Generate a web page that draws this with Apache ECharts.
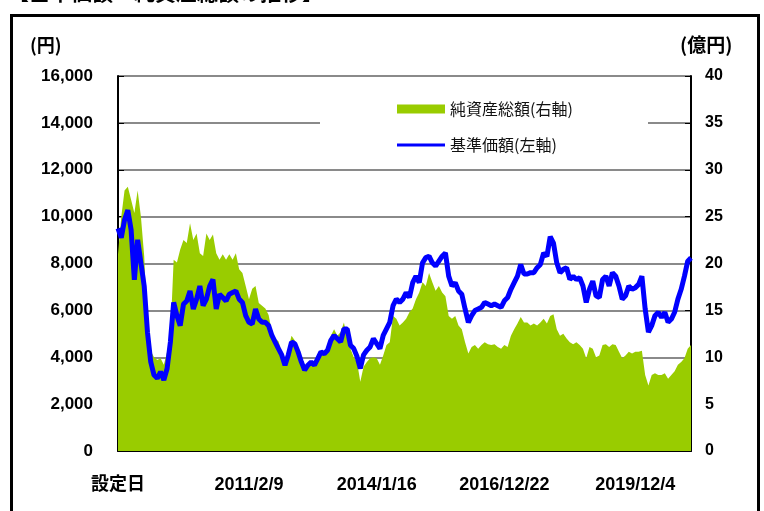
<!DOCTYPE html>
<html><head><meta charset="utf-8">
<script src="https://cdn.jsdelivr.net/npm/echarts@6/dist/echarts.min.js"></script>
<style>html,body{margin:0;padding:0;background:#fff;}#c{width:764px;height:511px;}</style>
</head><body><div id="c"></div>
<script>
// tick labels on the x axis and the sample index each one sits on
const tickIndex = [0, 40, 79, 118, 158];
const tickLabels = ['設定日', '2011/2/9', '2014/1/16', '2016/12/22', '2019/12/4'];

// 基準価額 (円), left axis
const price = [
  9500, 9100, 9860, 10280, 9440, 7300, 9010, 8030, 7040, 5070, 3800, 3240, 3100, 3380, 3030, 3520, 4650, 6340, 5775, 5350, 6270, 6400, 6830, 6060, 6480, 7040, 6200, 6480, 7040, 7320, 6060, 6690, 6550, 6400, 6690,
  6760, 6830, 6480, 6340, 5775, 5490, 5420, 6060, 5630, 5490, 5490, 5350, 4930, 4650, 4370, 4100, 3660, 4100, 4650, 4580, 4230, 3800, 3450, 3660, 3800, 3660, 3940, 4230, 4150, 4300, 4720, 4930, 4790, 4650, 5210,
  5210, 4510, 4370, 4030, 3520, 4100, 4300, 4440, 4790, 4580, 4370, 4930, 5210, 5490, 6200, 6480, 6340, 6480, 6760, 6550, 7180, 7460, 7180, 8030, 8250, 8310, 8030, 7890, 8100, 8310, 8450, 7460, 7040, 7180, 6830,
  6690, 6060, 5490, 5775, 5990, 6060, 6130, 6340, 6270, 6200, 6270, 6200, 6130, 6410, 6550, 6900, 7180, 7460, 7960, 7550, 7550, 7610, 7610, 7820, 7960, 8450, 8310, 9150, 8870, 8030, 7610, 7750, 7820, 7320, 7460,
  7320, 7390, 7040, 6340, 6900, 7250, 6620, 6550, 7320, 7460, 7040, 7610, 7460, 7040, 6480, 6620, 7040, 6900, 6970, 7110, 7460, 6060, 5070, 5350, 5775, 5920, 5700, 5920, 5490, 5630, 5920, 6480, 6900, 7460, 8100, 8240
];

// 純資産総額 (億円), right axis
const netAssets = [
  21.0, 25.0, 27.8, 28.2, 26.8, 25.4, 27.8, 25.0, 20.8, 13.0, 10.7, 10.0, 9.7, 9.9, 9.2, 10.6, 12.3, 20.4, 20.1, 21.5, 22.5, 22.2, 24.3, 22.5, 23.2, 21.1, 20.8, 23.2, 22.5, 23.1, 21.1, 20.4, 21.0, 20.4, 21.0,
  20.4, 21.1, 19.4, 19.0, 17.6, 16.2, 17.3, 17.6, 15.8, 15.5, 15.2, 14.5, 12.7, 12.0, 11.7, 10.6, 9.2, 10.9, 12.3, 11.8, 10.9, 9.5, 8.7, 9.3, 9.5, 9.3, 10.0, 10.7, 10.6, 11.1, 12.3, 13.0, 12.3, 12.7, 13.7,
  12.0, 10.9, 10.0, 9.5, 7.4, 9.0, 9.5, 9.9, 10.0, 9.9, 9.2, 10.2, 11.3, 11.6, 14.4, 14.1, 13.4, 13.7, 14.1, 14.8, 15.2, 16.2, 16.9, 18.0, 17.6, 19.0, 18.0, 17.1, 17.6, 16.9, 16.5, 14.4, 14.1, 14.4, 13.4,
  13.0, 11.6, 10.4, 11.1, 11.3, 10.9, 11.3, 11.6, 11.4, 11.3, 11.4, 11.1, 10.9, 11.3, 11.1, 12.3, 13.0, 13.6, 14.3, 13.7, 13.7, 13.4, 13.6, 13.4, 13.7, 14.1, 13.6, 14.4, 14.6, 13.0, 12.3, 12.5, 12.0, 11.6, 11.4,
  11.6, 11.3, 10.9, 9.9, 11.1, 10.9, 10.0, 10.2, 11.3, 11.4, 11.1, 11.4, 11.3, 10.6, 9.9, 10.2, 10.6, 10.4, 10.6, 10.6, 10.7, 8.1, 7.0, 8.1, 8.3, 8.1, 8.1, 8.3, 7.7, 8.1, 8.5, 9.2, 9.5, 9.9, 10.9, 11.3
];

const categories = price.map((_, i) => String(i));
const nameNAV = '純資産総額(右軸)';
const namePrice = '基準価額(左軸)';

const chart = echarts.init(document.getElementById('c'), null, {renderer: 'canvas'});
const showTick = (idx) => tickIndex.indexOf(idx) >= 0;
const numFont = '"Liberation Sans", Arial, sans-serif';
const cjkFont = '"Noto Sans CJK JP", sans-serif';
const legendText = {fontFamily: cjkFont, fontSize: 16, color: '#111', lineHeight: 20};

chart.setOption({
  animation: false,
  backgroundColor: '#fff',
  grid: {left: 118, right: 73, top: 76, bottom: 60, outerBoundsMode: 'none', containLabel: false},
  legend: [
    {data: [{name: nameNAV, icon: 'rect'}], orient: 'vertical', left: 397, top: 99, padding: 0, itemGap: 0,
     itemWidth: 48, itemHeight: 9, textStyle: legendText, selectedMode: false},
    {data: [{name: namePrice, icon: 'rect'}], orient: 'vertical', left: 397, top: 135, padding: 0, itemGap: 0,
     itemWidth: 48, itemHeight: 3, textStyle: legendText, selectedMode: false}
  ],
  graphic: [
    {type: 'rect', z: 1, shape: {x: 320, y: 90, width: 328, height: 70}, style: {fill: '#fff'}},
    {type: 'rect', z: 10, shape: {x: 11.5, y: 15.5, width: 747, height: 520}, style: {fill: 'none', stroke: '#000', lineWidth: 3}},
    {type: 'text', z: 10, left: 8, top: -18, style: {text: '【基準価額・純資産総額の推移】', font: 'bold 21px ' + cjkFont, fill: '#000'}},
    {type: 'text', z: 10, left: 30, top: 36, style: {text: '(円)', font: 'bold 18px ' + cjkFont, fill: '#000'}},
    {type: 'text', z: 10, left: 680, top: 35, style: {text: '(億円)', font: 'bold 19px ' + cjkFont, fill: '#000'}}
  ],
  xAxis: {
    type: 'category', data: categories, boundaryGap: false,
    axisLine: {show: true, lineStyle: {color: '#000', width: 2}},
    axisTick: {show: true, inside: true, length: 6, interval: showTick, lineStyle: {color: '#000', width: 1}},
    axisLabel: {interval: showTick, margin: 25, formatter: (v, idx) => tickLabels[tickIndex.indexOf(idx)] || '',
      fontFamily: '"Liberation Sans", Arial, "Noto Sans CJK JP", sans-serif', fontWeight: 'bold', fontSize: 18, color: '#000'},
    splitLine: {show: false}
  },
  yAxis: [
    {type: 'value', min: 0, max: 16000, interval: 2000, position: 'left',
     axisLine: {show: true, lineStyle: {color: '#000', width: 2}},
     axisTick: {show: true, inside: true, length: 6, lineStyle: {color: '#000'}},
     axisLabel: {margin: 25, formatter: v => v.toLocaleString('en-US'), fontFamily: numFont, fontWeight: 'bold', fontSize: 17, color: '#000'},
     splitLine: {show: true, lineStyle: {color: '#8a8a8a', width: 2}}},
    {type: 'value', min: 0, max: 40, interval: 5, position: 'right',
     axisLine: {show: true, lineStyle: {color: '#000', width: 2}},
     axisTick: {show: true, inside: true, length: 6, lineStyle: {color: '#000'}},
     axisLabel: {margin: 14, fontFamily: numFont, fontWeight: 'bold', fontSize: 16, color: '#000'},
     splitLine: {show: false}}
  ],
  series: [
    {name: nameNAV, type: 'line', yAxisIndex: 1, data: netAssets, symbol: 'none', z: 2,
     lineStyle: {width: 0}, itemStyle: {color: '#99CC00'}, areaStyle: {color: '#99CC00', opacity: 1}},
    {name: namePrice, type: 'line', yAxisIndex: 0, data: price, symbol: 'none', z: 3,
     lineStyle: {width: 5, color: '#0000FF'}, itemStyle: {color: '#0000FF'}}
  ]
});
</script></body></html>
